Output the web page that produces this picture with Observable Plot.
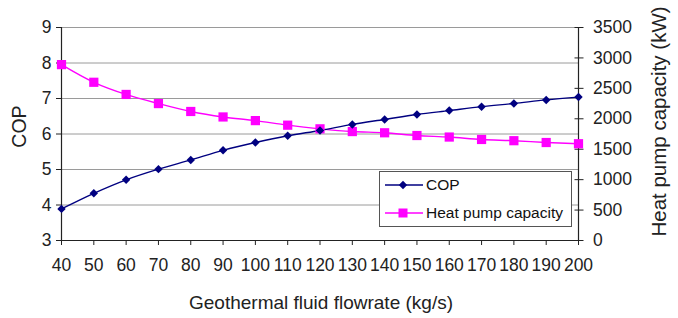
<!DOCTYPE html>
<html>
<head>
<meta charset="utf-8">
<script src="https://cdn.jsdelivr.net/npm/d3@7"></script>
<script src="https://cdn.jsdelivr.net/npm/@observablehq/plot@0.6"></script>
<style>
  body { margin: 0; background: #fff; }
  #wrap { position: relative; width: 678px; height: 318px; font-family: "Liberation Sans", Arial, sans-serif; }
  #legend { position: absolute; left: 379px; top: 171px; width: 193px; height: 56px; background: #fff; border: 1px solid #555; box-sizing: border-box; font-size: 15.5px; color: #111; }
  .row { position: absolute; left: 5px; height: 18px; line-height: 18px; display: flex; align-items: center; }
  .row svg { display: block; }
  .row span { margin-left: 3px; }
</style>
</head>
<body>
<div id="wrap"></div>
<script>
const flowrate = [40, 50, 60, 70, 80, 90, 100, 110, 120, 130, 140, 150, 160, 170, 180, 190, 200];
const cop = [3.89, 4.33, 4.71, 5.01, 5.27, 5.54, 5.76, 5.95, 6.10, 6.27, 6.41, 6.55, 6.66, 6.77, 6.86, 6.96, 7.04];
const capacity = [2890, 2600, 2400, 2250, 2120, 2030, 1970, 1895, 1835, 1790, 1770, 1725, 1700, 1660, 1640, 1610, 1590];
const copTicks = [3, 4, 5, 6, 7, 8, 9];
const capTicks = [0, 500, 1000, 1500, 2000, 2500, 3000, 3500];
const seriesNames = ["COP", "Heat pump capacity"];
const xTitle = "Geothermal fluid flowrate (kg/s)";
const yTitle = "COP";
const y2Title = "Heat pump capacity (kW)";

const capMax = 3500, copMin = 3, copMax = 9;
const capToY = c => copMin + c / capMax * (copMax - copMin);
const yToCap = y => String(Math.round((y - copMin) / (copMax - copMin) * capMax));

const data = flowrate.map((f, i) => ({f, cop: cop[i], cap: capToY(capacity[i])}));
const navy = "#000080", magenta = "#ff00ff";
const ink = "#222";

const chart = Plot.plot({
  width: 678, height: 318,
  marginLeft: 61, marginRight: 100, marginTop: 27, marginBottom: 78,
  style: {fontFamily: "Liberation Sans, Arial, sans-serif", fontSize: "17.5px", color: ink, background: "#fff"},
  x: {type: "linear", domain: [40, 200]},
  y: {type: "linear", domain: [copMin, copMax]},
  marks: [
    Plot.ruleY(copTicks.slice(1), {stroke: "#9a9a9a", strokeWidth: 1}),
    Plot.axisX(flowrate, {tickSize: 5, tickPadding: 13, fontSize: 17.5, tickFormat: d => String(d), label: null, stroke: ink}),
    Plot.axisY(copTicks, {anchor: "left", tickSize: 5, tickPadding: 5, fontSize: 17.5, tickFormat: d => String(d), label: null, stroke: ink}),
    Plot.axisY(capTicks.map(capToY), {anchor: "right", tickSize: 9, dx: -4.5, tickPadding: 10, fontSize: 17.5, tickFormat: yToCap, label: null, stroke: ink}),
    Plot.ruleX([40], {stroke: ink, strokeWidth: 1.2}),
    Plot.ruleX([200], {stroke: ink, strokeWidth: 1.2}),
    Plot.ruleY([3], {stroke: ink, strokeWidth: 1.2}),
    Plot.line(data, {x: "f", y: "cap", stroke: magenta, strokeWidth: 1.4, curve: "catmull-rom"}),
    Plot.line(data, {x: "f", y: "cop", stroke: navy, strokeWidth: 1.4, curve: "catmull-rom"}),
    Plot.dot(data, {x: "f", y: "cap", symbol: "square", r: 5.2, fill: magenta, stroke: "none"}),
    Plot.dot(data, {x: "f", y: "cop", symbol: "diamond2", r: 3.8, fill: navy, stroke: "none"}),
    Plot.text([xTitle], {frameAnchor: "bottom", text: d => d, dy: 62, dx: 1, textAnchor: "middle", lineAnchor: "middle", fontSize: 19, fill: ink}),
    Plot.text([yTitle], {frameAnchor: "left", text: d => d, dx: -42, dy: -7.5, rotate: -90, textAnchor: "middle", lineAnchor: "middle", fontSize: 19.5, fill: ink}),
    Plot.text([y2Title], {frameAnchor: "right", text: d => d, dx: 81, dy: -12.5, rotate: -90, textAnchor: "middle", lineAnchor: "middle", fontSize: 20.5, fill: ink})
  ]
});

const wrap = document.getElementById("wrap");
wrap.appendChild(chart);

const legend = document.createElement("div");
legend.id = "legend";
const sw = [
  `<svg width="38" height="12"><line x1="0" y1="6" x2="38" y2="6" stroke="${navy}" stroke-width="1.3"/><path d="M18 1.8 L22.2 6 L18 10.2 L13.8 6 Z" fill="${navy}"/></svg>`,
  `<svg width="38" height="12"><line x1="0" y1="6" x2="38" y2="6" stroke="${magenta}" stroke-width="1.3"/><rect x="13.5" y="1.5" width="9" height="9" fill="${magenta}"/></svg>`
];
legend.innerHTML = seriesNames.map((n, i) => `<div class="row" style="top:${4 + i * 28}px">${sw[i]}<span>${n}</span></div>`).join("");
wrap.appendChild(legend);
</script>
</body>
</html>
